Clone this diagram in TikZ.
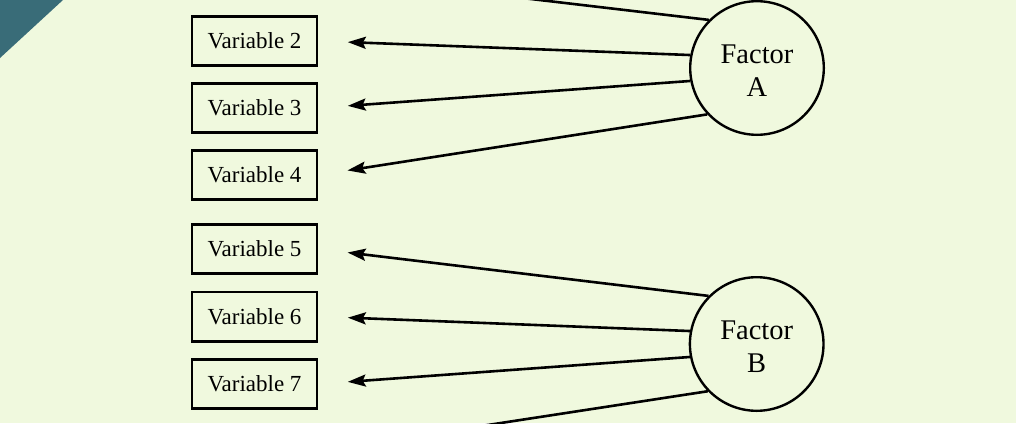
\documentclass[tikz,border=0pt]{standalone}
\usepackage{fontspec}
\setmainfont{Liberation Serif}
\usetikzlibrary{arrows.meta}
\definecolor{bg}{HTML}{F0F9DE}
\definecolor{corner}{HTML}{396C78}
\begin{document}
\begin{tikzpicture}[x=1pt,y=-1pt,
  varbox/.style={draw=black,line width=2.6pt,minimum width=125pt,minimum height=49.4pt,inner sep=0pt,
    font=\fontsize{23}{27}\selectfont},
  factor/.style={circle,draw=black,line width=2.4pt,minimum size=133.6pt,inner sep=0pt,align=center,
    font=\fontsize{28.5}{34}\selectfont},
  load/.style={line width=2.6pt,-{Stealth[length=18pt,width=12pt,inset=3pt]},shorten >=29.5pt}]
\useasboundingbox (0,0) rectangle (1016,423);
\fill[bg] (0,0) rectangle (1016,423);
\fill[corner] (0,0) -- (63,0) -- (0,58) -- cycle;
\node[varbox] (v1) at (254.5,-26) {Variable 1};
\node[varbox] (v2) at (254.5,41) {Variable 2};
\node[varbox] (v3) at (254.5,108) {Variable 3};
\node[varbox] (v4) at (254.5,175) {Variable 4};
\node[varbox] (v5) at (254.5,249) {Variable 5};
\node[varbox] (v6) at (254.5,316.5) {Variable 6};
\node[varbox] (v7) at (254.5,384) {Variable 7};
\node[varbox] (v8) at (254.5,451) {Variable 8};
\node[factor] (A) at (757,68) {\raisebox{-5.5pt}[\height][\depth]{\begin{tabular}{@{}c@{}}Factor\\[-1pt]A\end{tabular}}};
\node[factor] (B) at (756.7,344) {\raisebox{-5.5pt}[\height][\depth]{\begin{tabular}{@{}c@{}}Factor\\[-1pt]B\end{tabular}}};
\draw[load] (A.135.5) -- (v1.east);
\draw[load] (A.169.5) -- (v2.east);
\draw[load] (A.191) -- (v3.east);
\draw[load] (A.223) -- (v4.east);
\draw[load] (B.135.5) -- (v5.east);
\draw[load] (B.169.5) -- (v6.east);
\draw[load] (B.191.5) -- (v7.east);
\draw[load] (B.224) -- (v8.east);
\end{tikzpicture}
\end{document}
